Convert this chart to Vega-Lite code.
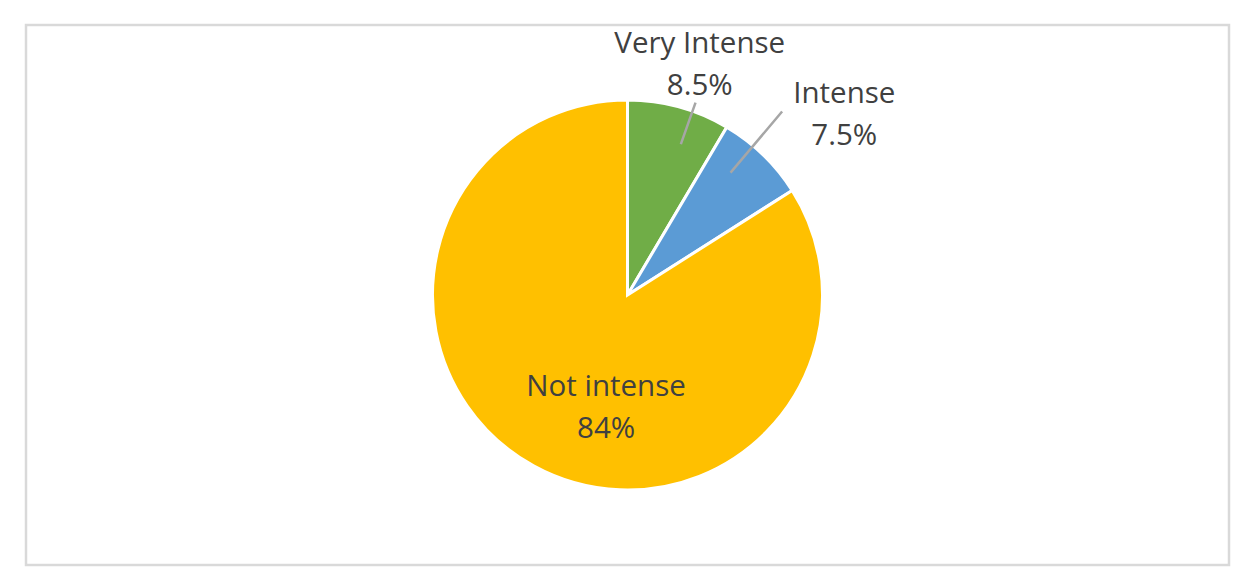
{
  "$schema": "https://vega.github.io/schema/vega-lite/v6.json",
  "width": 1237,
  "height": 581,
  "autosize": {"type": "fit", "contains": "padding"},
  "padding": {"left": 24, "top": 23, "right": 6, "bottom": 14},
  "background": "white",
  "config": {"view": {"stroke": "#D9D9D9", "strokeWidth": 2.5}},
  "data": {
    "values": [
      {"category": "Very Intense", "share": 8.5, "pct": "8.5%", "rank": 1},
      {"category": "Intense", "share": 7.5, "pct": "7.5%", "rank": 2},
      {"category": "Not intense", "share": 84, "pct": "84%", "rank": 3}
    ]
  },
  "transform": [{"calculate": "[datum.category, datum.pct]", "as": "label"}],
  "encoding": {
    "theta": {"field": "share", "type": "quantitative", "stack": true},
    "order": {"field": "rank", "type": "quantitative"}
  },
  "layer": [
    {
      "data": {"values": [{}]},
      "mark": {"type": "rect", "fill": null, "stroke": "#D9D9D9", "strokeWidth": 2.5},
      "encoding": {"theta": null, "order": null}
    },
    {
      "mark": {"type": "arc", "radius": 195, "stroke": "white", "strokeWidth": 3},
      "encoding": {
        "color": {
          "field": "category",
          "type": "nominal",
          "scale": {"domain": ["Very Intense", "Intense", "Not intense"], "range": ["#70AD47", "#5B9BD5", "#FFC000"]},
          "legend": null
        }
      }
    },
    {
      "mark": {"type": "text", "radius": 251, "dx": 6, "font": "Open Sans", "fontSize": 29.5, "lineHeight": 42, "fill": "#404040", "align": "center", "baseline": "alphabetic"},
      "encoding": {
        "text": {"condition": {"test": "datum.category === 'Very Intense'", "field": "label"}, "value": ""}
      }
    },
    {
      "mark": {"type": "text", "radius": 267, "dx": 31, "font": "Open Sans", "fontSize": 29.5, "lineHeight": 42, "fill": "#404040", "align": "center", "baseline": "alphabetic"},
      "encoding": {
        "text": {"condition": {"test": "datum.category === 'Intense'", "field": "label"}, "value": ""}
      }
    },
    {
      "mark": {"type": "text", "radius": 115, "dx": 34, "font": "Open Sans", "fontSize": 29.5, "lineHeight": 42, "fill": "#404040", "align": "center", "baseline": "alphabetic"},
      "encoding": {
        "text": {"condition": {"test": "datum.category === 'Not intense'", "field": "label"}, "value": ""}
      }
    },
    {
      "data": {"values": [{}]},
      "mark": {"type": "arc", "theta": 0.34, "theta2": 0.34, "radius": 204, "radius2": 160, "stroke": "#A6A6A6", "strokeWidth": 2.5, "fill": null},
      "encoding": {"theta": null, "order": null}
    },
    {
      "data": {"values": [{}]},
      "mark": {"type": "arc", "theta": 0.70, "theta2": 0.70, "radius": 240, "radius2": 160, "stroke": "#A6A6A6", "strokeWidth": 2.5, "fill": null},
      "encoding": {"theta": null, "order": null}
    }
  ]
}
